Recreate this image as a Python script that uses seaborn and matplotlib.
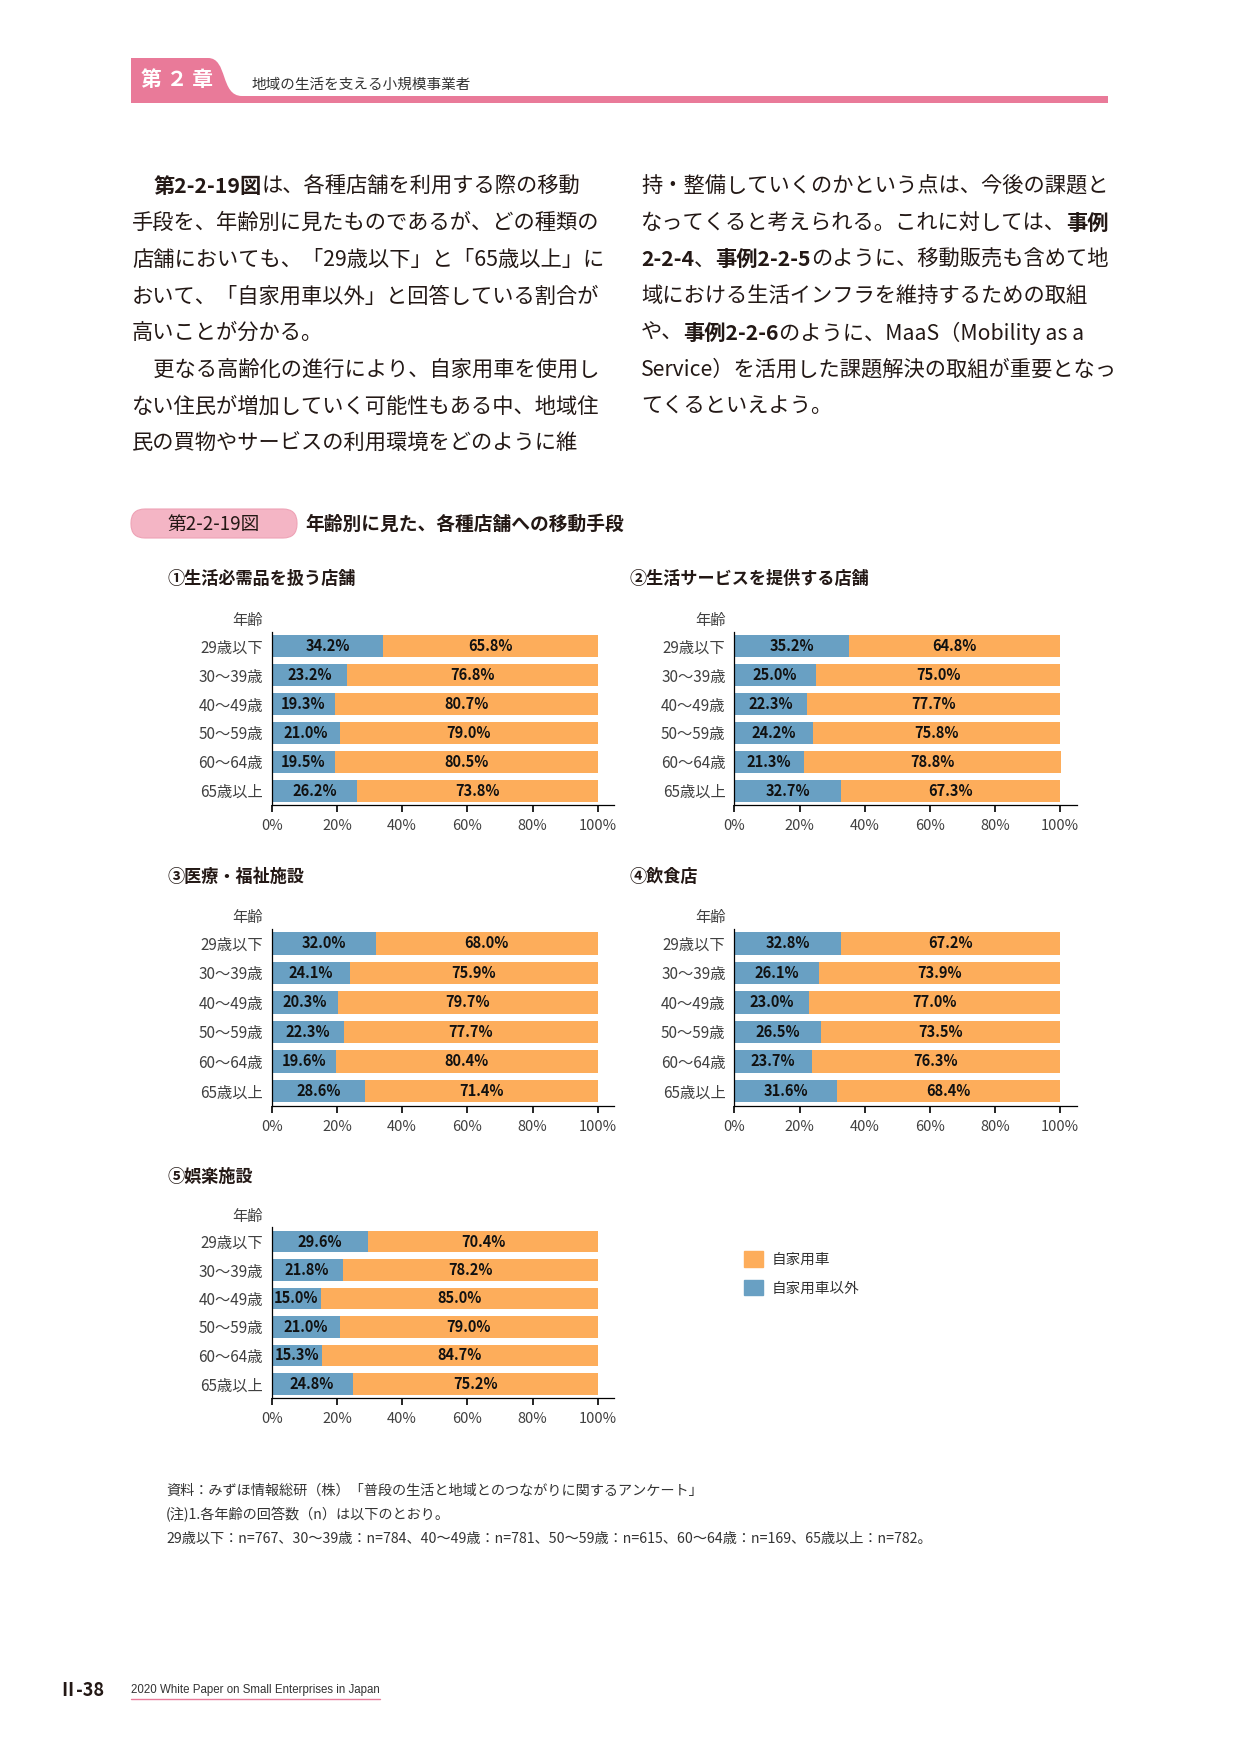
import matplotlib
matplotlib.use("Agg")
import matplotlib.pyplot as plt
import seaborn as sns
from matplotlib.patches import Patch, PathPatch, FancyBboxPatch
from matplotlib.path import Path

sns.set_style("ticks")
plt.rcParams["font.family"] = ["Noto Sans CJK JP", "DejaVu Sans"]

#%% Data
ages = ["29歳以下", "30～39歳", "40～49歳", "50～59歳", "60～64歳", "65歳以上"]
titles = [
    "①生活必需品を扱う店舗",
    "②生活サービスを提供する店舗",
    "③医療・福祉施設",
    "④飲食店",
    "⑤娯楽施設",
]
legend_labels = ["自家用車", "自家用車以外"]
xticks = [0, 20, 40, 60, 80, 100]

# 自家用車以外 (blue) / 自家用車 (orange), %
other_1 = [34.2, 23.2, 19.3, 21.0, 19.5, 26.2]
own_1 = [65.8, 76.8, 80.7, 79.0, 80.5, 73.8]
other_2 = [35.2, 25.0, 22.3, 24.2, 21.3, 32.7]
own_2 = [64.8, 75.0, 77.7, 75.8, 78.8, 67.3]
other_3 = [32.0, 24.1, 20.3, 22.3, 19.6, 28.6]
own_3 = [68.0, 75.9, 79.7, 77.7, 80.4, 71.4]
other_4 = [32.8, 26.1, 23.0, 26.5, 23.7, 31.6]
own_4 = [67.2, 73.9, 77.0, 73.5, 76.3, 68.4]
other_5 = [29.6, 21.8, 15.0, 21.0, 15.3, 24.8]
own_5 = [70.4, 78.2, 85.0, 79.0, 84.7, 75.2]

# Page text
header_chapter = "第 ２ 章"
header_text = "地域の生活を支える小規模事業者"
left_lines = [
    [("　", False), ("第2-2-19図", True), ("は、各種店舗を利用する際の移動", False)],
    [("手段を、年齢別に見たものであるが、どの種類の", False)],
    [("店舗においても、「29歳以下」と「65歳以上」に", False)],
    [("おいて、「自家用車以外」と回答している割合が", False)],
    [("高いことが分かる。", False)],
    [("　更なる高齢化の進行により、自家用車を使用し", False)],
    [("ない住民が増加していく可能性もある中、地域住", False)],
    [("民の買物やサービスの利用環境をどのように維", False)],
]
right_lines = [
    [("持・整備していくのかという点は、今後の課題と", False)],
    [("なってくると考えられる。これに対しては、", False), ("事例", True)],
    [("2-2-4", True), ("、", False), ("事例2-2-5", True), ("のように、移動販売も含めて地", False)],
    [("域における生活インフラを維持するための取組", False)],
    [("や、", False), ("事例2-2-6", True), ("のように、MaaS（Mobility as a", False)],
    [("Service）を活用した課題解決の取組が重要となっ", False)],
    [("てくるといえよう。", False)],
]
fig_number = "第2-2-19図"
fig_title = "年齢別に見た、各種店舗への移動手段"
notes = [
    "資料：みずほ情報総研（株）「普段の生活と地域とのつながりに関するアンケート」",
    "(注)1.各年齢の回答数（n）は以下のとおり。",
    "29歳以下：n=767、30～39歳：n=784、40～49歳：n=781、50～59歳：n=615、60～64歳：n=169、65歳以上：n=782。",
]
page_no = "Ⅱ-38"
footer_text = "2020 White Paper on Small Enterprises in Japan"

#%% Styles
W, H = 1241, 1754
BLUE = "#69a0c3"
ORANGE = "#fdad5b"
PINK = "#e97a99"
LIGHT_PINK = "#f4b5c5"
TXT = "#231815"
GREY = "#404040"

fig = plt.figure(figsize=(W / 100, H / 100), dpi=100)
bg = fig.add_axes([0, 0, 1, 1])
bg.set_xlim(0, W)
bg.set_ylim(H, 0)
bg.axis("off")
renderer = fig.canvas.get_renderer()


def draw_runs(x, y, parts, size, color=TXT):
    for s, bold in parts:
        t = bg.text(x, y, s, fontsize=size, fontweight="bold" if bold else "normal",
                    color=color, va="center", ha="left")
        x += t.get_window_extent(renderer).width
    return x


#%% Header
verts = [(131, 103), (131, 58), (208, 58), (228, 58), (220, 96), (242, 96),
         (1108, 96), (1108, 103), (131, 103)]
codes = [Path.MOVETO, Path.LINETO, Path.LINETO, Path.CURVE4, Path.CURVE4, Path.CURVE4,
         Path.LINETO, Path.LINETO, Path.CLOSEPOLY]
bg.add_patch(PathPatch(Path(verts, codes), facecolor=PINK, edgecolor="none"))
bg.text(177, 80, header_chapter, fontsize=15, fontweight="bold", color="white",
        ha="center", va="center")
bg.text(251, 85, header_text, fontsize=10.5, color="#333333", ha="left", va="center")

#%% Body text
for i, parts in enumerate(left_lines):
    draw_runs(132, 186.5 + i * 36.65, parts, 15.3)
for i, parts in enumerate(right_lines):
    draw_runs(641, 186.5 + i * 36.65, parts, 15.3)

#%% Figure title
bg.add_patch(FancyBboxPatch((131, 509), 166, 29, boxstyle="round,pad=0,rounding_size=14",
                            facecolor=LIGHT_PINK, edgecolor="#eea3b6", linewidth=0.8))
bg.text(214, 524, fig_number, fontsize=13.5, color=TXT, ha="center", va="center")
bg.text(305, 524, fig_title, fontsize=13.5, fontweight="bold", color=TXT,
        ha="left", va="center")

#%% Charts
charts = [
    (other_1, own_1, 271.7, 632, 805, 168, 578.5),
    (other_2, own_2, 734.3, 632, 805, 630, 578.5),
    (other_3, own_3, 271.7, 928.6, 1105.7, 168, 876.7),
    (other_4, own_4, 734.3, 928.6, 1105.7, 630, 876.7),
    (other_5, own_5, 271.7, 1227.4, 1398, 168, 1176.7),
]
ax_w = 342.3

for k, (other, own, left, top, bottom, tx, ty) in enumerate(charts):
    ax = fig.add_axes([left / W, 1 - bottom / H, ax_w / W, (bottom - top) / H])
    total = [a + b for a, b in zip(other, own)]
    sns.barplot(x=total, y=ages, orient="h", color=ORANGE, saturation=1,
                width=0.76, linewidth=0, errorbar=None, ax=ax)
    sns.barplot(x=other, y=ages, orient="h", color=BLUE, saturation=1,
                width=0.76, linewidth=0, errorbar=None, ax=ax)
    for i in range(len(ages)):
        ax.text(other[i] / 2, i, f"{other[i]:.1f}%", ha="center", va="center",
                fontsize=10.5, fontweight="bold", color="#111111")
        ax.text(other[i] + own[i] / 2, i, f"{own[i]:.1f}%", ha="center", va="center",
                fontsize=10.5, fontweight="bold", color="#111111")

    ax.set_xlim(0, 105)
    ax.set_xticks(xticks)
    ax.set_xticklabels([f"{t}%" for t in xticks])
    ax.set(xlabel="", ylabel="")
    sns.despine(ax=ax)
    for side in ["left", "bottom"]:
        ax.spines[side].set_color("black")
        ax.spines[side].set_linewidth(0.9)
    ax.tick_params(axis="x", direction="out", length=5, width=1.2, color="black",
                   labelsize=10.5, labelcolor=GREY, pad=5)
    ax.tick_params(axis="y", length=0, labelsize=11, labelcolor=GREY, pad=6.3)

    bg.text(left - 8.7, top - 11, "年齢", fontsize=11, color=GREY, ha="right", va="center")
    bg.text(tx, ty, titles[k], fontsize=12.3, fontweight="bold", color=TXT,
            ha="left", va="center")

#%% Legend
fig.legend(handles=[Patch(color=ORANGE, label=legend_labels[0]),
                    Patch(color=BLUE, label=legend_labels[1])],
           loc="upper left", bbox_to_anchor=(744 / W, 1 - 1251 / H), frameon=False,
           borderpad=0, borderaxespad=0, handlelength=1.3, handleheight=1.3,
           handletextpad=0.58, labelspacing=0.87, fontsize=10.5, labelcolor="#333333")

#%% Notes
for i, line in enumerate(notes):
    bg.text(166, 1490.5 + i * 24.1, line, fontsize=10.2, color="#333333",
            ha="left", va="center")

#%% Footer
bg.text(58, 1691, page_no, fontsize=13, fontweight="bold", color=TXT, ha="left", va="center")
ft = bg.text(131, 1690.5, footer_text, fontsize=8.3, family="Liberation Sans",
             color="#333333", ha="left", va="center")
fw = ft.get_window_extent(renderer).width
bg.plot([131, 131 + fw], [1699, 1699], color=PINK, linewidth=1)

fig.savefig("out.png", dpi=100)
